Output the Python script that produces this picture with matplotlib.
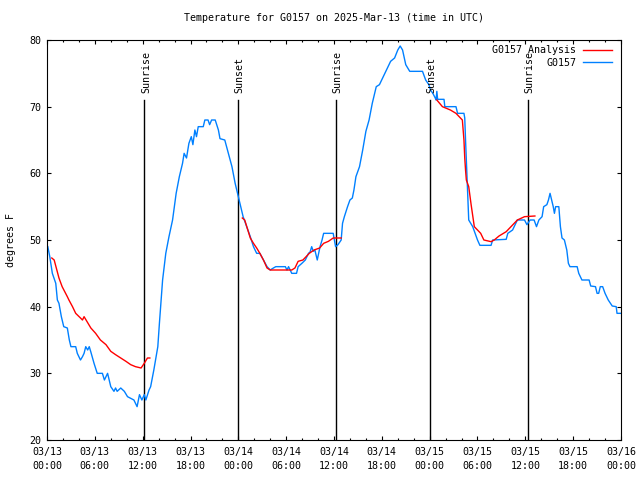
import matplotlib
matplotlib.use("Agg")
import matplotlib.pyplot as plt
from matplotlib.ticker import MultipleLocator, FixedLocator
import numpy as np

# ---- data (hours since 03/13 00:00 UTC, degrees F) ----
obs_hours = [0.1, 0.35, 0.67, 1.1, 1.3, 1.5, 1.8, 2.1, 2.55, 2.8, 3.0, 3.6, 3.8, 4.2, 4.45, 4.65,
             4.86, 5.1, 5.3, 5.5, 5.9, 6.3, 6.95, 7.2, 7.6, 8.0, 8.4, 8.6, 8.8, 9.25, 9.7, 10.1,
             10.9, 11.3, 11.6, 11.9, 12.2, 12.4, 12.8, 13.0, 13.4, 13.9, 14.1, 14.5, 14.9, 15.3,
             15.75, 16.2, 16.6, 17.0, 17.2, 17.5, 17.8, 18.1, 18.3, 18.55, 18.75, 18.97, 19.6,
             19.8, 20.2, 20.4, 20.65, 21.1, 21.5, 21.7, 22.3, 22.75, 23.2, 23.6, 23.9, 24.2, 24.6,
             25.05, 25.5, 25.9, 26.3, 26.7, 27.15, 27.6, 28.0, 28.4, 28.7, 29.9, 30.1, 30.3, 30.7,
             31.3, 31.5, 31.97, 32.4, 32.8, 33.0, 33.2, 33.4, 33.6, 33.9, 34.25, 34.5, 34.7, 35.9,
             36.0, 36.2, 36.5, 36.9, 37.07, 37.3, 37.7, 38.0, 38.3, 38.5, 38.75, 39.2, 39.6, 40.0,
             40.4, 40.8, 41.3, 41.7, 42.1, 42.5, 43.1, 43.6, 44.0, 44.3, 44.6, 45.0, 45.5, 47.1,
             47.5, 47.9, 48.1, 48.4, 48.7, 48.8, 48.9, 49.0, 49.8, 49.9, 51.3, 51.5, 52.3, 52.4,
             52.5, 52.7, 52.9, 53.4, 53.7, 54.0, 54.3, 55.7, 55.9, 57.6, 57.8, 58.4, 58.6, 59.0,
             59.9, 60.2, 60.6, 61.1, 61.4, 61.7, 62.1, 62.3, 62.7, 62.9, 63.1, 63.3, 63.5, 63.65,
             63.8, 64.2, 64.4, 64.6, 64.9, 65.2, 65.4, 65.6, 66.5, 66.7, 67.1, 68.0, 68.2, 68.8,
             69.0, 69.2, 69.4, 69.7, 70.0, 70.4, 70.9, 71.4, 71.5, 72.0]
obs_temps = [49, 47.5, 45, 43.5, 41, 40.5, 38.5, 37, 36.8, 35, 34, 34, 33, 32, 32.5, 33,
             34, 33.5, 34, 33.2, 31.5, 30, 30, 29, 30, 28, 27.3, 27.8, 27.3, 27.8, 27.3, 26.5,
             26, 25, 26.8, 26, 26.8, 26, 27.5, 28, 30.5, 34, 37.5, 44, 48, 50.5,
             53, 57, 59.5, 61.5, 63, 62.3, 64.5, 65.5, 64.3, 66.5, 65.5, 67, 67,
             68, 68, 67.3, 68, 68, 66.5, 65.2, 65, 63, 61, 58.5, 57, 55.5, 53.5,
             52, 50.5, 49, 48, 48, 47, 46, 45.5, 45.8, 46, 46, 45.5, 46, 45,
             45, 46, 46.5, 47, 48, 48.2, 49, 48.3, 48.5, 47, 49, 50, 51, 51,
             50.3, 49, 49.3, 50, 52.5, 53.5, 55, 56, 56.3, 57.5, 59.5, 61, 63.5, 66.3,
             68, 70.5, 73, 73.3, 74.3, 75.3, 76.8, 77.3, 78.5, 79.1, 78.5, 76.3, 75.3, 75.3,
             74, 73.3, 72.5, 72, 71.3, 71, 72.3, 71.1, 71.1, 70, 70, 69, 69, 68.3,
             65, 59, 53, 52, 51, 50, 49.2, 49.2, 50, 50.1, 51, 51.5, 52, 53,
             53, 52.3, 53, 53, 52, 53, 53.5, 55, 55.3, 56, 57, 56, 55, 54,
             55, 55, 52, 50.3, 50, 48.5, 46.5, 46, 46, 45, 44, 44, 43.1, 43,
             42, 42, 43, 43, 42, 41, 40.1, 40, 39, 39]

ana_hours = [0.6, 0.9, 1.5, 1.9, 2.55, 2.75, 3.2, 3.6, 4.2, 4.45, 4.65, 5.0, 5.5, 6.1, 6.7, 7.4,
             8.0, 8.6, 9.25, 9.9, 10.5, 11.1, 11.8, 12.2, 12.6, 12.9,
             13.0,
             24.5, 24.8, 25.5, 25.9, 26.3, 26.7, 27.15, 27.6, 28.0, 30.7, 31.1, 31.5, 32.1, 32.5,
             32.9, 33.5, 34.2, 34.7, 35.3, 35.9, 36.9,
             37.0,
             48.9, 49.6, 50.6, 51.3, 51.7, 52.1, 52.3, 52.4, 52.5, 52.6, 52.9, 53.2, 53.6, 54.4,
             54.8, 55.7, 56.1, 56.7, 57.6, 58.2, 59.0, 59.9, 61.2]
ana_temps = [47.3, 47, 44.3, 43, 41.5, 41, 40, 39, 38.3, 38, 38.5, 37.8, 36.8, 36, 35, 34.3,
             33.3, 32.8, 32.3, 31.8, 31.3, 31, 30.8, 31.5, 32.3, 32.3,
             np.nan,
             53.3, 53, 50.3, 49.5, 48.8, 48, 47, 45.8, 45.5, 45.5, 45.8, 46.8, 47, 47.5,
             48, 48.5, 48.8, 49.5, 49.8, 50.3, 50.3,
             np.nan,
             71, 70, 69.5, 69, 68.5, 68, 65, 62.3, 60.5, 59, 58, 55.3, 52, 51,
             50, 49.75, 50, 50.6, 51.25, 52, 53, 53.5, 53.6]

sun_hours = [12.18, 23.9, 36.2, 48.0, 60.3]
sun_labels = ["Sunrise", "Sunset", "Sunrise", "Sunset", "Sunrise"]

xtick_hours = [0, 6, 12, 18, 24, 30, 36, 42, 48, 54, 60, 66, 72]
xtick_labels = ["03/13\n00:00", "03/13\n06:00", "03/13\n12:00", "03/13\n18:00",
                "03/14\n00:00", "03/14\n06:00", "03/14\n12:00", "03/14\n18:00",
                "03/15\n00:00", "03/15\n06:00", "03/15\n12:00", "03/15\n18:00",
                "03/16\n00:00"]
ytick_vals = [20, 30, 40, 50, 60, 70, 80]

title = "Temperature for G0157 on 2025-Mar-13 (time in UTC)"
ylabel = "degrees F"
label_ana = "G0157 Analysis"
label_obs = "G0157"

# ---- figure ----
FS = 7.2
plt.rcParams['font.family'] = ['DejaVu Sans Mono']
fig = plt.figure(figsize=(6.4, 4.8), dpi=100)
ax = fig.add_axes([47/640, 40/480, 574/640, 400/480])

for h, lab in zip(sun_hours, sun_labels):
    ax.plot([h, h], [20, 71.0], color='black', lw=1.0, zorder=1)
    ax.text(h + 0.25, 72.0, lab, rotation=90, ha='center', va='bottom',
            fontsize=FS, color='black')

ax.plot(ana_hours, ana_temps, color='#ff0000', lw=1.0, label=label_ana, zorder=3)
ax.plot(obs_hours, obs_temps, color='#0080ff', lw=1.0, label=label_obs, zorder=2)

ax.set_xlim(0, 72)
ax.set_ylim(20, 80)
ax.xaxis.set_major_locator(FixedLocator(xtick_hours))
ax.set_xticklabels(xtick_labels, fontsize=FS, linespacing=1.55)
ax.xaxis.set_minor_locator(MultipleLocator(2))
ax.set_yticks(ytick_vals)
ax.set_yticklabels([str(v) for v in ytick_vals], fontsize=FS)
ax.tick_params(which='major', direction='in', length=3.0, width=0.8,
               top=True, right=True, pad=4)
ax.tick_params(axis='x', which='major', pad=5)
ax.tick_params(which='minor', direction='in', length=1.6, width=0.8,
               top=True, right=True)
ax.tick_params(axis='y', which='minor', left=False, right=False)
for s in ax.spines.values():
    s.set_linewidth(0.8)

ax.set_title(title, fontsize=FS, pad=14)
ax.set_ylabel(ylabel, fontsize=FS)
ax.yaxis.set_label_coords(-0.054, 0.5)

leg = ax.legend(loc='upper right', bbox_to_anchor=(0.99, 0.994), frameon=False,
                markerfirst=False, fontsize=FS,
                handlelength=2.9, handletextpad=0.7, labelspacing=0.25,
                borderpad=0.3, borderaxespad=0.0)

fig.savefig("out.png", dpi=100)
